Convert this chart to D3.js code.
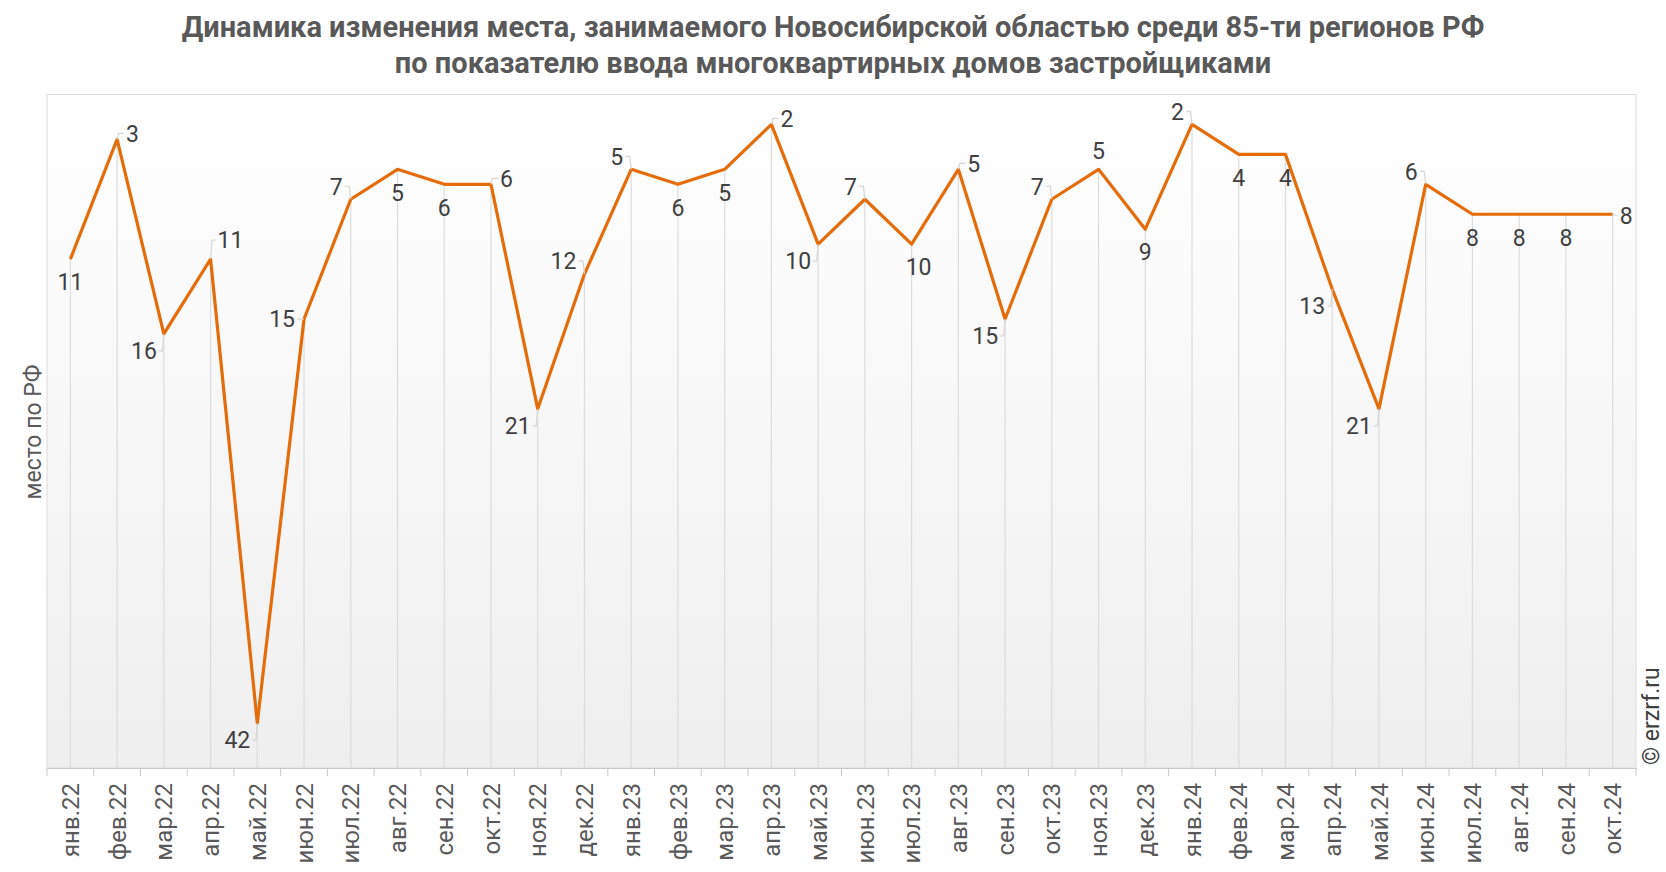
<!DOCTYPE html>
<html><head><meta charset="utf-8">
<script src="https://cdn.jsdelivr.net/npm/d3@7"></script>
<style>body{margin:0;background:#fff;font-family:Roboto,"Noto Sans",sans-serif}</style>
</head><body><svg id="c" width="1666" height="872"></svg>
<script>
const months = ["янв.22","фев.22","мар.22","апр.22","май.22","июн.22","июл.22","авг.22","сен.22","окт.22","ноя.22","дек.22","янв.23","фев.23","мар.23","апр.23","май.23","июн.23","июл.23","авг.23","сен.23","окт.23","ноя.23","дек.23","янв.24","фев.24","мар.24","апр.24","май.24","июн.24","июл.24","авг.24","сен.24","окт.24"];
const places = [11,3,16,11,42,15,7,5,6,6,21,12,5,6,5,2,10,7,10,5,15,7,5,9,2,4,4,13,21,6,8,8,8,8];
const labelDir = ["s","ne","sw","nne","sw","w","nw","s","s","ne","sw","nw","nw","s","s","ne","sw","nw","se","ne","sw","nw","n","s","nw","s","s","sw","sw","nw","s","s","s","e"];
const title1 = "Динамика изменения места, занимаемого Новосибирской областью среди 85-ти регионов РФ";
const title2 = "по показателю ввода многоквартирных домов застройщиками";
const yTitle = "место по РФ";
const copyright = "© erzrf.ru";

const svg = d3.select("#c");
const L=47,R=1636,T=94.5,B=768;
const x = d3.scaleBand().domain(months).range([L,R]);
const y = d3.scaleLinear().domain([0,45]).range([T,B]);
const cx = d => x(d)+x.bandwidth()/2;

const defs = svg.append("defs");
const g = defs.append("linearGradient").attr("id","bg").attr("x1",0).attr("x2",0).attr("y1",0).attr("y2",1);
g.append("stop").attr("offset","0%").attr("stop-color","#ffffff");
g.append("stop").attr("offset","100%").attr("stop-color","#efefef");

svg.append("rect").attr("x",L).attr("y",T).attr("width",R-L).attr("height",B-T)
  .attr("fill","url(#bg)").attr("stroke","#dcdcdc").attr("stroke-width",1);

svg.append("text").attr("x",833).attr("y",37).attr("text-anchor","middle")
  .attr("font-size",29).attr("font-weight","bold").attr("fill","#595959").text(title1);
svg.append("text").attr("x",833).attr("y",73).attr("text-anchor","middle")
  .attr("font-size",29).attr("font-weight","bold").attr("fill","#595959").text(title2);

// drop lines
svg.append("g").selectAll("line").data(months).join("line")
  .attr("x1",d=>cx(d)).attr("x2",d=>cx(d))
  .attr("y1",(d,i)=>y(places[i])).attr("y2",B)
  .attr("stroke","#dcdcdc").attr("stroke-width",1.2);

// x axis
const ax = svg.append("g").attr("transform",`translate(0,${B})`)
  .call(d3.axisBottom(x).tickSize(0).tickPadding(0));
ax.select(".domain").attr("stroke","#c8c8c8");
ax.selectAll(".tick text").attr("font-size",24).attr("fill","#595959")
  .attr("font-family","Roboto").attr("transform","rotate(-90)")
  .attr("text-anchor","end").attr("x",-15).attr("y",0).attr("dy","0.36em");
// tick marks at band boundaries
svg.append("g").selectAll("line").data(d3.range(months.length+1)).join("line")
  .attr("x1",i=>L+i*x.step()).attr("x2",i=>L+i*x.step())
  .attr("y1",B).attr("y2",B+8).attr("stroke","#c8c8c8");

svg.append("text").attr("transform",`translate(41,432) rotate(-90)`).attr("text-anchor","middle")
  .attr("font-size",23).attr("fill","#595959").text(yTitle);
svg.append("text").attr("transform",`translate(1659,765) rotate(-90)`).attr("text-anchor","start")
  .attr("font-size",23).attr("fill","#404040").text(copyright);

// line
const line = d3.line().x((d,i)=>cx(months[i])).y(d=>y(d));
svg.append("path").datum(places).attr("d",line).attr("fill","none")
  .attr("stroke","#e46c0a").attr("stroke-width",3.2).attr("stroke-linejoin","round");

// labels: [dx, dy, anchor]
const off = {s:[0,23,"middle"],se:[7,23,"middle"],n:[0,-19,"middle"],ne:[9,-6,"start"],nne:[7,-19,"start"],
             nw:[-8,-13,"end"],sw:[-7,17,"end"],w:[-9,0,"end"],e:[7,1,"start"]};
const lg = svg.append("g");
places.forEach((v,i)=>{
  const px=cx(months[i]), py=y(v), o=off[labelDir[i]];
  const tx=px+o[0], ty=py+o[1];
  if(o[2]!=="middle"){
    const ex = o[2]==="start" ? tx-2 : tx+2;
    const side = o[2]==="start" ? 1 : -1;
    lg.append("path").attr("d",`M${ex},${ty} L${px+side*1.5},${ty} L${px},${py}`)
      .attr("fill","none").attr("stroke","#d6d6d6").attr("stroke-width",1.2);
  }
  lg.append("text").attr("x",tx).attr("y",ty).attr("dy","0.36em").attr("text-anchor",o[2])
    .attr("font-size",23).attr("fill","#404040").text(v);
});
</script></body></html>
